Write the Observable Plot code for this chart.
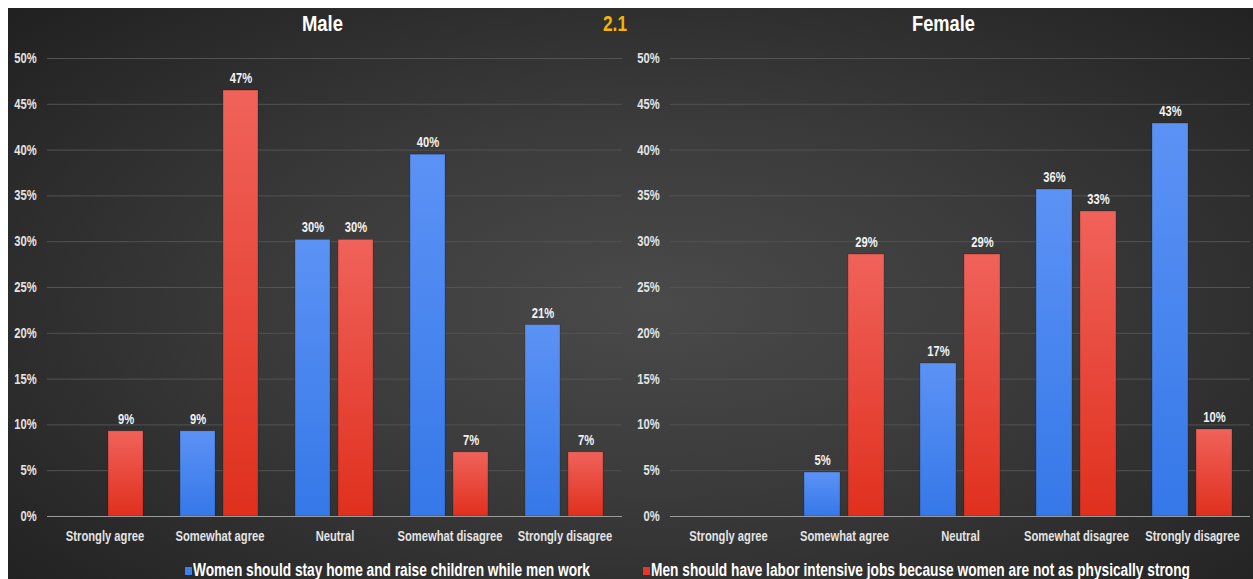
<!DOCTYPE html>
<html>
<head>
<meta charset="utf-8">
<script src="https://cdn.jsdelivr.net/npm/d3@7"></script>
<script src="https://cdn.jsdelivr.net/npm/@observablehq/plot@0.6"></script>
<style>
  html, body { margin: 0; padding: 0; background: #fff; }
  #page { position: relative; width: 1253px; height: 579px; overflow: hidden; background: #fff;
    font-family: "Liberation Sans", Arial, sans-serif; font-weight: bold; }
  #bg { position: absolute; left: 8px; top: 8px; width: 1245px; height: 571px;
    background: radial-gradient(ellipse 70% 75% at 52% 52%, #4a4a4a 0%, #3a3a3a 45%, #282828 85%, #212121 100%); }
  .fit { position: absolute; white-space: nowrap; display: inline-block; transform-origin: 0 0; }
  .title { top: 11px; color: #fff; font-size: 22px; }
  .tag { color: #f5b400; }
  .plot { position: absolute; top: 40px; }
  .legend { top: 560px; color: #fff; font-size: 18px; }
  .sw { position: absolute; top: 567px; width: 7px; height: 8px; }
</style>
</head>
<body>
<div id="page">
  <div id="bg"></div>
  <div class="fit title" data-x="302" data-w="41">Male</div>
  <div class="fit title tag" data-x="603" data-w="24">2.1</div>
  <div class="fit title" data-x="912" data-w="63">Female</div>
  <div class="plot" id="left" style="left:8px"></div>
  <div class="plot" id="right" style="left:628px"></div>
  <div class="sw" style="left:185px;background:#3d7fee"></div>
  <div class="fit legend" id="leg0" data-x="193" data-w="397"></div>
  <div class="sw" style="left:643px;background:#e8352a"></div>
  <div class="fit legend" id="leg1" data-x="651" data-w="539"></div>
</div>
<script>
const categories = ["Strongly agree", "Somewhat agree", "Neutral", "Somewhat disagree", "Strongly disagree"];
const seriesNames = ["Women should stay home and raise children while men work",
                     "Men should have labor intensive jobs because women are not as physically strong"];
const maleStay    = [0, 9.3, 30.2, 39.5, 20.9];
const maleLabor   = [9.3, 46.5, 30.2, 7.0, 7.0];
const femaleStay  = [0, 4.8, 16.7, 35.7, 42.9];
const femaleLabor = [0, 28.6, 28.6, 33.3, 9.5];
const yTicks = [0, 5, 10, 15, 20, 25, 30, 35, 40, 45, 50];

document.getElementById("leg0").textContent = seriesNames[0];
document.getElementById("leg1").textContent = seriesNames[1];

function rows(stay, labor) {
  const out = [];
  categories.forEach((c, i) => {
    out.push({cat: c, series: seriesNames[0], value: stay[i]});
    out.push({cat: c, series: seriesNames[1], value: labor[i]});
  });
  return out;
}

const FONT = '"Liberation Sans", Arial, sans-serif';
const NARROW = 0.8;

function makeChart(data, width, mLeft, mRight, id) {
  const chart = Plot.plot({
    width, height: 510,
    marginLeft: mLeft, marginRight: mRight, marginTop: 18, marginBottom: 34,
    style: {background: "transparent", color: "#e4e4e4", fontSize: "14px", fontWeight: "bold",
            fontFamily: FONT, overflow: "visible"},
    fx: {domain: categories, padding: 0, axis: "bottom", label: null, tickSize: 0, tickPadding: 15},
    x: {domain: seriesNames, paddingInner: 0.18, paddingOuter: 0.4, axis: null},
    y: {domain: [0, 50], ticks: yTicks, tickFormat: d => d + "%", tickSize: 0, tickPadding: 11, label: null},
    color: {domain: seriesNames, range: ["url(#gBlue" + id + ")", "url(#gRed" + id + ")"]},
    marks: [
      Plot.gridY(yTicks, {stroke: "#535353", strokeOpacity: 1}),
      Plot.barY(data, {fx: "cat", x: "series", y: "value", fill: "series",
        stroke: "#00000040", strokeWidth: 0.8}),
      Plot.ruleY([0], {stroke: "#9a9a9a", strokeWidth: 1.2}),
      Plot.text(data.filter(d => d.value > 0), {fx: "cat", x: "series", y: "value",
        text: d => Math.round(d.value) + "%", dy: -12, fill: "#f2f2f2", fontWeight: "bold", fontSize: 14})
    ]
  });
  const svg = d3.select(chart);
  const defs = svg.insert("defs", ":first-child");
  const gb = defs.append("linearGradient").attr("id", "gBlue" + id).attr("x1", 0).attr("y1", 0).attr("x2", 0).attr("y2", 1);
  gb.append("stop").attr("offset", "0%").attr("stop-color", "#5c92f5");
  gb.append("stop").attr("offset", "100%").attr("stop-color", "#3578e8");
  const gr = defs.append("linearGradient").attr("id", "gRed" + id).attr("x1", 0).attr("y1", 0).attr("x2", 0).attr("y2", 1);
  gr.append("stop").attr("offset", "0%").attr("stop-color", "#f0625a");
  gr.append("stop").attr("offset", "100%").attr("stop-color", "#e0301e");
  return chart;
}

function narrowTexts(svgEl) {
  svgEl.querySelectorAll("text").forEach(t => {
    const b = t.getBBox();
    const anchor = getComputedStyle(t).textAnchor;
    const cx = anchor === "end" ? b.x + b.width : anchor === "middle" ? b.x + b.width / 2 : b.x;
    const prev = t.getAttribute("transform") || "";
    t.setAttribute("transform", `${prev} translate(${cx},0) scale(${NARROW},1) translate(${-cx},0)`);
  });
}

const L = makeChart(rows(maleStay, maleLabor), 620, 38, 5, "L");
document.getElementById("left").appendChild(L);
const R = makeChart(rows(femaleStay, femaleLabor), 625, 41, 3, "R");
document.getElementById("right").appendChild(R);
narrowTexts(L);
narrowTexts(R);

document.querySelectorAll(".fit").forEach(el => {
  const x = +el.dataset.x, w = +el.dataset.w;
  el.style.left = x + "px";
  const actual = el.getBoundingClientRect().width;
  el.style.transform = `scale(${w / actual}, 1)`;
});
</script>
</body>
</html>
